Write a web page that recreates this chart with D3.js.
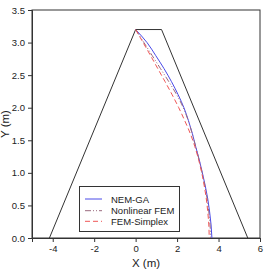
<!DOCTYPE html>
<html><head><meta charset="utf-8">
<script src="https://cdn.jsdelivr.net/npm/d3@7"></script>
<style>body{margin:0;background:#fff}svg{display:block}</style>
</head><body>
<svg id="c" width="265" height="270"></svg>
<script>
const xTicks = [-4,-2,0,2,4,6];
const yTicks = [0,0.5,1.0,1.5,2.0,2.5,3.0,3.5];
const damX = [-4.16, 0, 1.25, 5.41];
const damY = [0, 3.2, 3.2, 0];
const curveY = [3.2,3.0,2.8,2.6,2.4,2.2,2.0,1.8,1.6,1.4,1.2,1.0,0.8,0.6,0.4,0.2,0.0];
const nemGA   = [0,0.55,0.97,1.37,1.73,2.05,2.33,2.55,2.74,2.90,3.07,3.22,3.36,3.48,3.57,3.64,3.68];
const nonlinFEM = [0,0.40,0.80,1.20,1.60,1.98,2.30,2.54,2.73,2.90,3.06,3.21,3.34,3.45,3.53,3.59,3.62];
const femSimplex = [0,0.36,0.72,1.07,1.42,1.76,2.08,2.37,2.64,2.86,3.04,3.19,3.31,3.41,3.48,3.53,3.55];
const seriesNames = ["NEM-GA","Nonlinear FEM","FEM-Simplex"];

const svg = d3.select("#c");
const L=32,R=260,T=10,B=238;
const x = d3.scaleLinear().domain([-5,6]).range([L,R]);
const y = d3.scaleLinear().domain([0,3.5]).range([B,T]);
const font = "Liberation Sans, Arial, sans-serif";

svg.append("rect").attr("x",L).attr("y",T).attr("width",R-L).attr("height",B-T)
  .attr("fill","none").attr("stroke","#333").attr("stroke-width",1);

const xa = svg.append("g").attr("transform",`translate(0,${B})`)
  .call(d3.axisBottom(x).tickValues(xTicks).tickSize(4).tickPadding(3).tickFormat(d=>String(d)));
const ya = svg.append("g").attr("transform",`translate(${L},0)`)
  .call(d3.axisLeft(y).tickValues(yTicks).tickSize(4).tickPadding(3).tickFormat(d=>d.toFixed(1)));
[xa,ya].forEach(a=>{
  a.select(".domain").attr("stroke","#333");
  a.selectAll(".tick line").attr("stroke","#333");
  a.selectAll("text").attr("font-family",font).attr("font-size",9.5).attr("fill","#222");
});

svg.append("text").attr("x",146).attr("y",267).attr("text-anchor","middle")
  .attr("font-family",font).attr("font-size",11.5).attr("fill","#222").text("X (m)");
svg.append("text").attr("transform","translate(9,124) rotate(-90)").attr("text-anchor","middle")
  .attr("font-family",font).attr("font-size",11.5).attr("fill","#222").text("Y (m)");

const dam = damX.map((d,i)=>[d,damY[i]]);
svg.append("path").attr("d",d3.line().x(d=>x(d[0])).y(d=>y(d[1]))(dam))
  .attr("fill","none").attr("stroke","#333").attr("stroke-width",1);

const line = d3.line().x(d=>x(d[0])).y(d=>y(d[1])).curve(d3.curveMonotoneY);
const styles = [
  {data:nemGA, color:"#4a4ae8", dash:null},
  {data:nonlinFEM, color:"#9a6a7e", dash:"6,2,1,2,1,2"},
  {data:femSimplex, color:"#ef5555", dash:"5,3"}
];
styles.forEach(s=>{
  svg.append("path").attr("d",line(s.data.map((v,i)=>[v,curveY[i]])))
    .attr("fill","none").attr("stroke",s.color).attr("stroke-width",1)
    .attr("stroke-dasharray",s.dash);
});

const lg = svg.append("g");
lg.append("rect").attr("x",79.5).attr("y",186.5).attr("width",100).attr("height",45)
  .attr("fill","#fff").attr("stroke","#333");
const ly=[199,210.7,221.3];
styles.forEach((s,i)=>{
  lg.append("line").attr("x1",85).attr("x2",102).attr("y1",ly[i]).attr("y2",ly[i])
    .attr("stroke",s.color).attr("stroke-dasharray",s.dash);
  lg.append("text").attr("x",111).attr("y",ly[i]+3.5).attr("font-family",font)
    .attr("font-size",9.5).attr("fill","#222").text(seriesNames[i]);
});
</script>
</body></html>
